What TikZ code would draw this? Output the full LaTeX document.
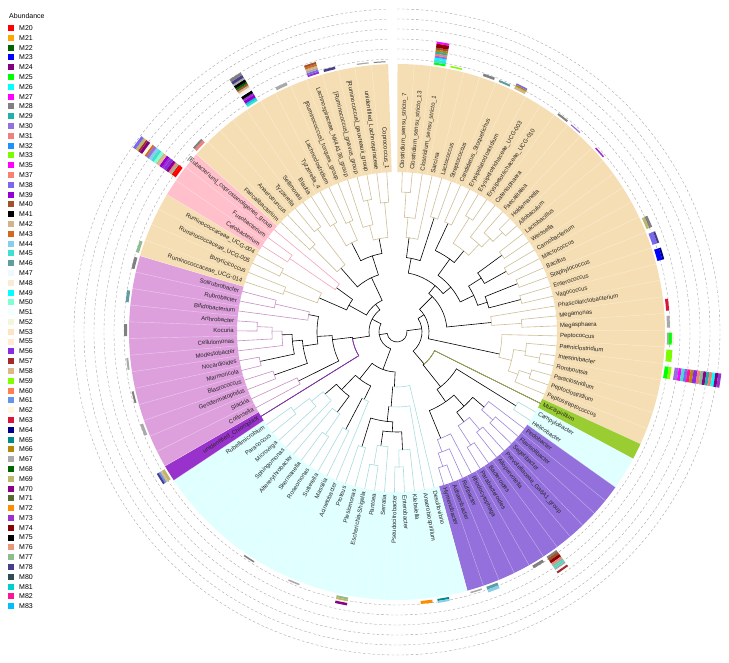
\documentclass[tikz,border=0pt]{standalone}
\usepackage{fontspec}
\setmainfont{Liberation Sans}
% abundance colours
\definecolor{M20}{HTML}{FF0000}\definecolor{M21}{HTML}{FFA500}\definecolor{M22}{HTML}{006400}
\definecolor{M23}{HTML}{0000FF}\definecolor{M24}{HTML}{800080}\definecolor{M25}{HTML}{00FF00}
\definecolor{M26}{HTML}{00FFFF}\definecolor{M27}{HTML}{FF00FF}\definecolor{M28}{HTML}{808080}
\definecolor{M29}{HTML}{20B2AA}\definecolor{M30}{HTML}{9370DB}\definecolor{M31}{HTML}{F08080}
\definecolor{M32}{HTML}{1E90FF}\definecolor{M33}{HTML}{7CFC00}\definecolor{M35}{HTML}{FF00FF}
\definecolor{M37}{HTML}{FA8072}\definecolor{M38}{HTML}{7B68EE}\definecolor{M39}{HTML}{9400D3}
\definecolor{M40}{HTML}{A0522D}\definecolor{M41}{HTML}{000000}\definecolor{M42}{HTML}{D2B48C}
\definecolor{M43}{HTML}{D2691E}\definecolor{M44}{HTML}{87CEEB}\definecolor{M45}{HTML}{40E0D0}
\definecolor{M46}{HTML}{5F9EA0}\definecolor{M47}{HTML}{F0F8FF}\definecolor{M48}{HTML}{FAEBD7}
\definecolor{M49}{HTML}{00FFFF}\definecolor{M50}{HTML}{7FFFD4}\definecolor{M51}{HTML}{F0FFFF}
\definecolor{M52}{HTML}{F5F5DC}\definecolor{M53}{HTML}{FFE4C4}\definecolor{M55}{HTML}{FFEBCD}
\definecolor{M56}{HTML}{8A2BE2}\definecolor{M57}{HTML}{A52A2A}\definecolor{M58}{HTML}{DEB887}
\definecolor{M59}{HTML}{7FFF00}\definecolor{M60}{HTML}{FF7F50}\definecolor{M61}{HTML}{6495ED}
\definecolor{M62}{HTML}{FFF8DC}\definecolor{M63}{HTML}{DC143C}\definecolor{M64}{HTML}{00008B}
\definecolor{M65}{HTML}{008B8B}\definecolor{M66}{HTML}{B8860B}\definecolor{M67}{HTML}{A9A9A9}
\definecolor{M68}{HTML}{006400}\definecolor{M69}{HTML}{BDB76B}\definecolor{M70}{HTML}{8B008B}
\definecolor{M71}{HTML}{556B2F}\definecolor{M72}{HTML}{FF8C00}\definecolor{M73}{HTML}{9932CC}
\definecolor{M74}{HTML}{8B0000}\definecolor{M75}{HTML}{000000}\definecolor{M76}{HTML}{E9967A}
\definecolor{M77}{HTML}{8FBC8F}\definecolor{M78}{HTML}{483D8B}\definecolor{M80}{HTML}{2F4F4F}
\definecolor{M81}{HTML}{00CED1}\definecolor{M82}{HTML}{FF1493}\definecolor{M83}{HTML}{00BFFF}
% clade highlight colours
\definecolor{hlFirm}{HTML}{F5DEB3}\definecolor{hlFuso}{HTML}{FFC0CB}
\definecolor{hlActi}{HTML}{DDA0DD}\definecolor{hlChlo}{HTML}{9932CC}
\definecolor{hlProt}{HTML}{E0FFFF}\definecolor{hlBact}{HTML}{9370DB}
\definecolor{hlMuci}{HTML}{9ACD32}
% branch colours
\definecolor{brF}{HTML}{CDBE96}\definecolor{brU}{HTML}{F2A5B5}
\definecolor{brA}{HTML}{C88EC3}\definecolor{brC}{HTML}{9932CC}
\definecolor{brP}{HTML}{A8DCE0}\definecolor{brB}{HTML}{9B87D9}
\definecolor{brG}{HTML}{A9B64A}
\tikzset{%
  % Specifications for style of tree, labels and legend
      branch/.style = {line width=0.6pt, line cap=round},
    tiplabel/.style = {font=\fontsize{6}{7}\selectfont, inner sep=0pt, text=black!85},
     legtext/.style = {font=\fontsize{7}{8}\selectfont, inner sep=0pt, anchor=west},
      legbox/.style = {minimum size=6pt, inner sep=0pt},
    ringline/.style = {gray!75, line width=0.35pt, dash pattern=on 2.6pt off 2.2pt},
    leafline/.style = {white, opacity=0.45, line width=0.4pt},
}
% angle of leaf #1 (counted clockwise from the top)
\pgfmathdeclarefunction{leafang}{1}{\pgfmathparse{88.1-(#1-1)*3.58}}
\newcommand{\tipR}{160}
\newcommand{\bandR}{268}
% clade: first/last leaf of left child, last leaf, radius, parent radius, stem colour, arc colour
\newcommand{\clade}[7]{%
  \pgfmathsetmacro{\angL}{leafang((#1+#2)/2)}%
  \pgfmathsetmacro{\angR}{leafang((#2+1+#3)/2)}%
  \pgfmathsetmacro{\angN}{leafang((#1+#3)/2)}%
  \draw[branch,#6] (\angN:#5) -- (\angN:#4);
  \draw[branch,#7] (\angL:#4) arc[start angle=\angL, end angle=\angR, radius=#4];
  \ifnum#1=#2\relax \draw[branch,#7] (\angL:#4) -- (\angL:\tipR);\fi
  \pgfmathtruncatemacro{\mm}{#2+1}%
  \ifnum\mm=#3\relax \draw[branch,#7] (\angR:#4) -- (\angR:\tipR);\fi}
% single leaf drawn over in its own colour: leaf, parent first, parent last, parent radius, colour
\newcommand{\leafedge}[5]{%
  \pgfmathsetmacro{\angP}{leafang((#2+#3)/2)}%
  \pgfmathsetmacro{\angT}{leafang(#1)}%
  \draw[branch,#5] (\angP:#4) arc[start angle=\angP, end angle=\angT, radius=#4] -- (\angT:\tipR);}
% highlighted band over leaves #1..#2
\newcommand{\hilite}[3]{%
  \pgfmathsetmacro{\hA}{leafang(#1)+1.79}%
  \pgfmathsetmacro{\hB}{leafang(#2)-1.79}%
  \fill[#3] (\hA:\tipR) arc[start angle=\hA, end angle=\hB, radius=\tipR]
    -- (\hB:\bandR) arc[start angle=\hB, end angle=\hA, radius=\bandR] -- cycle;}
% tip label
\newcommand{\tiplab}[2]{%
  \pgfmathsetmacro{\tang}{leafang(#1)}%
  \ifdim\tang pt<-90pt
    \node[tiplabel, anchor=east, rotate=\tang+180] (tip#1) at (\tang:163) {#2};
  \else
    \node[tiplabel, anchor=west, rotate=\tang] (tip#1) at (\tang:163) {#2};
  \fi}
% stacked abundance bar on leaf #1
\newcommand{\abar}[2]{%
  \pgfmathsetmacro{\ba}{leafang(#1)+1.25}%
  \pgfmathsetmacro{\bb}{leafang(#1)-1.25}%
  \foreach \bc/\bl [remember=\rb as \ra (initially 270), evaluate=\bl as \rb using \ra+\bl] in {#2}
    \fill[\bc] (\ba:\ra) arc[start angle=\ba, end angle=\bb, radius=\ra]
      -- (\bb:\rb) arc[start angle=\bb, end angle=\ba, radius=\rb] -- cycle;}

\begin{document}
\begin{tikzpicture}[x=1pt, y=1pt]
  \useasboundingbox (0,0) rectangle (729,662);
  % legend
  \node[legtext] (abund) at (9,646) {Abundance};
  \foreach \s [count=\k from 0] in {20,21,22,23,24,25,26,27,28,29,30,31,32,33,35,37,38,39,40,41,
      42,43,44,45,46,47,48,49,50,51,52,53,55,56,57,58,59,60,61,62,63,64,65,66,67,68,69,70,
      71,72,73,74,75,76,77,78,80,81,82,83} {
    \node[legbox, fill=M\s] (box\s) at (11,{634-\k*9.8}) {};
    \node[legtext] (leg\s) at (19,{634-\k*9.8}) {M\s};
  }
  \begin{scope}[shift={(397,330)}]
  % dashed grid of the abundance ring
  \foreach \rr in {273,283,...,323}
    \draw[ringline] (90:\rr) arc[start angle=90, end angle=-268.1, radius=\rr];
  % clade highlights
  \hilite{1}{32}{hlFirm}   \hilite{33}{33}{hlMuci}  \hilite{34}{35}{hlProt}
  \hilite{36}{46}{hlBact}  \hilite{47}{66}{hlProt}  \hilite{67}{67}{hlChlo}
  \hilite{68}{80}{hlActi}  \hilite{81}{84}{hlFirm}  \hilite{85}{87}{hlFuso}
  \hilite{88}{100}{hlFirm}
  \foreach \i in {1,...,99} {
    \pgfmathsetmacro{\la}{leafang(\i)-1.79}
    \draw[leafline] (\la:\tipR) -- (\la:\bandR);
  }
  % tree
  \foreach \a/\m/\b/\r/\rp/\sc/\ac in {
      1/46/100/10/10/black/black, 1/32/46/25/10/black/black, 1/25/32/32/25/black/black,
      1/22/25/50/32/black/black, 1/6/22/60/50/black/black, 1/4/6/75/60/black/black,
      1/3/4/95/75/black/brF, 1/2/3/115/95/brF/brF, 1/1/2/140/115/brF/brF,
      5/5/6/120/75/black/brF, 7/14/22/70/60/black/black, 7/8/14/90/70/black/black,
      7/7/8/120/90/black/brF, 9/10/14/105/90/black/brF, 9/9/10/135/105/brF/brF,
      11/11/14/120/105/brF/brF, 12/12/14/132/120/brF/brF, 13/13/14/145/132/brF/brF,
      15/18/22/85/70/black/black, 15/16/18/100/85/black/black, 15/15/16/130/100/black/brF,
      17/17/18/125/100/black/brF, 19/20/22/95/85/black/black, 19/19/20/130/95/black/brF,
      21/21/22/128/95/black/brF, 23/23/25/95/50/black/brF, 24/24/25/125/95/brF/brF,
      26/26/32/105/32/black/brF, 27/29/32/118/105/brF/brF, 27/27/29/130/118/brF/brF,
      28/28/29/145/130/brF/brF, 30/31/32/128/118/brF/brF, 30/30/31/140/128/brF/brF,
      33/33/46/42/25/black/black, 34/35/46/70/42/black/black, 34/34/35/140/70/black/brP,
      36/42/46/85/70/black/black, 36/38/42/100/85/black/black, 36/36/38/115/100/black/brB,
      37/37/38/130/115/brB/brB, 39/40/42/112/100/black/brB, 39/39/40/128/112/brB/brB,
      41/41/42/135/112/brB/brB, 43/43/46/115/85/black/brB, 44/44/46/128/115/brB/brB,
      45/45/46/142/128/brB/brB,
      47/66/100/18/10/black/black, 47/56/66/40/18/black/black, 47/47/56/55/40/black/brP,
      48/48/56/75/55/black/brP, 49/54/56/90/75/black/black, 49/51/54/100/90/black/black,
      49/49/51/118/100/black/brP, 50/50/51/135/118/brP/brP, 52/52/54/115/100/black/brP,
      53/53/54/135/115/brP/brP, 55/55/56/120/90/black/brP, 57/59/66/60/40/black/black,
      57/57/59/75/60/black/brP, 58/58/59/110/75/black/brP, 60/62/66/80/60/black/black,
      60/61/62/100/80/black/brP, 60/60/61/125/100/brP/brP, 63/63/66/95/80/black/brP,
      64/64/66/110/95/brP/brP, 65/65/66/130/110/brP/brP,
      67/80/100/28/18/black/black, 67/67/80/45/28/black/black, 68/69/80/65/45/black/black,
      68/68/69/110/65/black/brA, 70/77/80/80/65/black/black, 70/71/77/95/80/black/black,
      70/70/71/130/95/black/brA, 72/73/77/105/95/black/black, 72/72/73/140/105/black/brA,
      74/74/77/115/105/black/brA, 75/75/77/125/115/brA/brA, 76/76/77/140/125/brA/brA,
      78/78/80/90/80/black/brA, 79/79/80/125/90/brA/brA,
      81/87/100/35/28/black/black, 81/84/87/55/35/black/black, 81/82/84/85/55/black/brF,
      81/81/82/120/85/brF/brF, 83/83/84/130/85/brF/brF, 85/86/87/75/55/black/brU,
      85/85/86/130/75/brU/brU, 88/91/100/60/35/black/black, 88/89/91/85/60/black/brF,
      88/88/89/120/85/brF/brF, 90/90/91/130/85/brF/brF, 92/95/100/80/60/black/black,
      92/93/95/100/80/black/brF, 92/92/93/125/100/brF/brF, 94/94/95/120/100/brF/brF,
      96/98/100/95/80/black/brF, 96/96/98/110/95/brF/brF, 97/97/98/135/110/brF/brF,
      99/99/100/130/95/brF/brF}
    {\clade{\a}{\m}{\b}{\r}{\rp}{\sc}{\ac}}
  \leafedge{33}{33}{46}{42}{brG}
  \leafedge{67}{67}{80}{45}{brC}
  % tip labels
  \foreach \i/\t in {1/Clostridium\_sensu\_stricto\_7, 2/Clostridium\_sensu\_stricto\_13,
      3/Clostridium\_sensu\_stricto\_1, 4/Sarcina, 5/Lactococcus, 6/Streptococcus,
      7/Candidatus\_Stoquefichus, 8/Erysipelatoclostridium, 9/Erysipelotrichaceae\_UCG-003,
      10/Erysipelotrichaceae\_UCG-010, 11/Catenisphaera, 12/Faecalitalea, 13/Holdemanella,
      14/Allobaculum, 15/Lactobacillus, 16/Weissella, 17/Carnobacterium, 18/Macrococcus,
      19/Bacillus, 20/Staphylococcus, 21/Enterococcus, 22/Vagococcus, 23/Phascolarctobacterium,
      24/Megamonas, 25/Megasphaera, 26/Peptococcus, 27/Paeniclostridium, 28/Intestinibacter,
      29/Romboutsia, 30/Paraclostridium, 31/Peptoclostridium, 32/Peptostreptococcus,
      33/Mucispirillum, 34/Campylobacter, 35/Helicobacter, 36/Pedobacter, 37/Flavisolibacter,
      38/Segetibacter, 39/Prevotellaceae\_Ga6A1\_group, 40/Alloprevotella, 41/Bacteroides,
      42/Parabacteroides, 43/Rhodocytophaga, 44/Rufibacter, 45/Adhaeribacter, 46/Hymenobacter,
      47/Desulfovibrio, 48/Anaerobiospirillum, 49/Klebsiella, 50/Enterobacter,
      51/Pseudocitrobacter, 52/Serratia, 53/Pantoea, 54/Escherichia-Shigella, 55/Plesiomonas,
      56/Proteus, 57/Acinetobacter, 58/Massilia, 59/Sutterella, 60/Roseomonas, 61/Skermanella,
      62/Altererythrobacter, 63/Sphingomonas, 64/Microvirga, 65/Paracoccus, 66/Rubellimicrobium,
      67/unidentified\_Chloroplast, 68/Collinsella, 69/Slackia, 70/Geodermatophilus,
      71/Blastococcus, 72/Marmoricola, 73/Nocardioides, 74/Modestobacter, 75/Cellulomonas,
      76/Kocuria, 77/Arthrobacter, 78/Bifidobacterium, 79/Rubrobacter, 80/Solirubrobacter,
      81/Ruminococcaceae\_UCG-014, 82/Butyricicoccus, 83/Ruminococcaceae\_UCG-005,
      84/Ruminococcaceae\_UCG-004, 85/Cetobacterium, 86/Fusobacterium,
      87/{[Eubacterium]\_coprostanoligenes\_group}, 88/Faecalibacterium, 89/Anaerotruncus,
      90/Tyzzerella, 91/Sellimonas, 92/Blautia, 93/Tyzzerella\_4, 94/Lachnoclostridium,
      95/{[Ruminococcus]\_torques\_group}, 96/Lachnospiraceae\_NK4A136\_group,
      97/{[Ruminococcus]\_gnavus\_group}, 98/{[Ruminococcus]\_gauvreauii\_group},
      99/unidentified\_Lachnospiraceae, 100/Coprococcus\_1}
    {\tiplab{\i}{\t}}
  % abundance bars
  \abar{3}{M25/2,M45/3,M26/2,M30/2,M31/2,M29/2,M66/2,M40/2,M74/4,M27/2}
  \abar{4}{M33/1.5}  \abar{6}{M28/2.5}  \abar{7}{M46/2}
  \abar{8}{M42/1.5,M69/1.5,M66/1.5,M38/1.5}
  \abar{11}{M28/2}  \abar{12}{M30/1.2}  \abar{14}{M73/1.5}
  \abar{19}{M69/3,M28/3}  \abar{20}{M38/5,M78/2}  \abar{21}{M23/5,M64/2}
  \abar{24}{M63/3}  \abar{25}{M67/3}  \abar{26}{M67/2,M25/3,M52/2}  \abar{27}{M33/6}
  \abar{28}{M25/4,M59/3,M62/3,M30/4,M27/3,M45/3,M38/3,M82/3,M66/3,M56/4,M31/3,M77/3,
            M70/3,M29/3,M37/3,M26/3,M24/3,M73/3}
  \abar{41}{M28/2,M40/3,M74/3,M31/2,M77/2,M45/2,M67/2,M47/2,M57/2}
  \abar{42}{M28/3}  \abar{45}{M46/3,M44/3}  \abar{46}{M67/1.5}
  \abar{48}{M65/2,M44/2}  \abar{49}{M72/3}  \abar{54}{M77/2,M69/2,M62/1.5,M70/2.5}
  \abar{57}{M67/1.5}  \abar{60}{M28/1.5}
  \abar{67}{M69/3,M58/2,M61/2,M78/2}
  \abar{70}{M67/3}  \abar{72}{M28/2}  \abar{74}{M67/2}  \abar{76}{M28/3}
  \abar{78}{M46/3}  \abar{80}{M28/3}  \abar{81}{M77/3}
  \abar{86}{M20/3,M20/2,M77/2,M31/2,M70/3,M56/3,M73/2,M39/3,M58/2,M42/2,M50/3,M45/3,
            M44/3,M30/3,M43/2,M62/3,M24/3,M57/2,M69/3,M38/3}
  \abar{88}{M31/3,M28/2}
  \abar{92}{M45/2,M81/2,M39/3,M73/2,M41/3,M47/2,M48/2,M42/2,M40/2,M68/2,M41/3,M67/2,M78/3,M28/3}
  \abar{94}{M67/3}  \abar{96}{M73/2,M38/2,M67/2,M42/2,M43/2,M40/2}
  \abar{97}{M78/2.5}  \abar{99}{M67/1.2}  \abar{100}{M28/1}
  \end{scope}
\end{tikzpicture}
\end{document}
